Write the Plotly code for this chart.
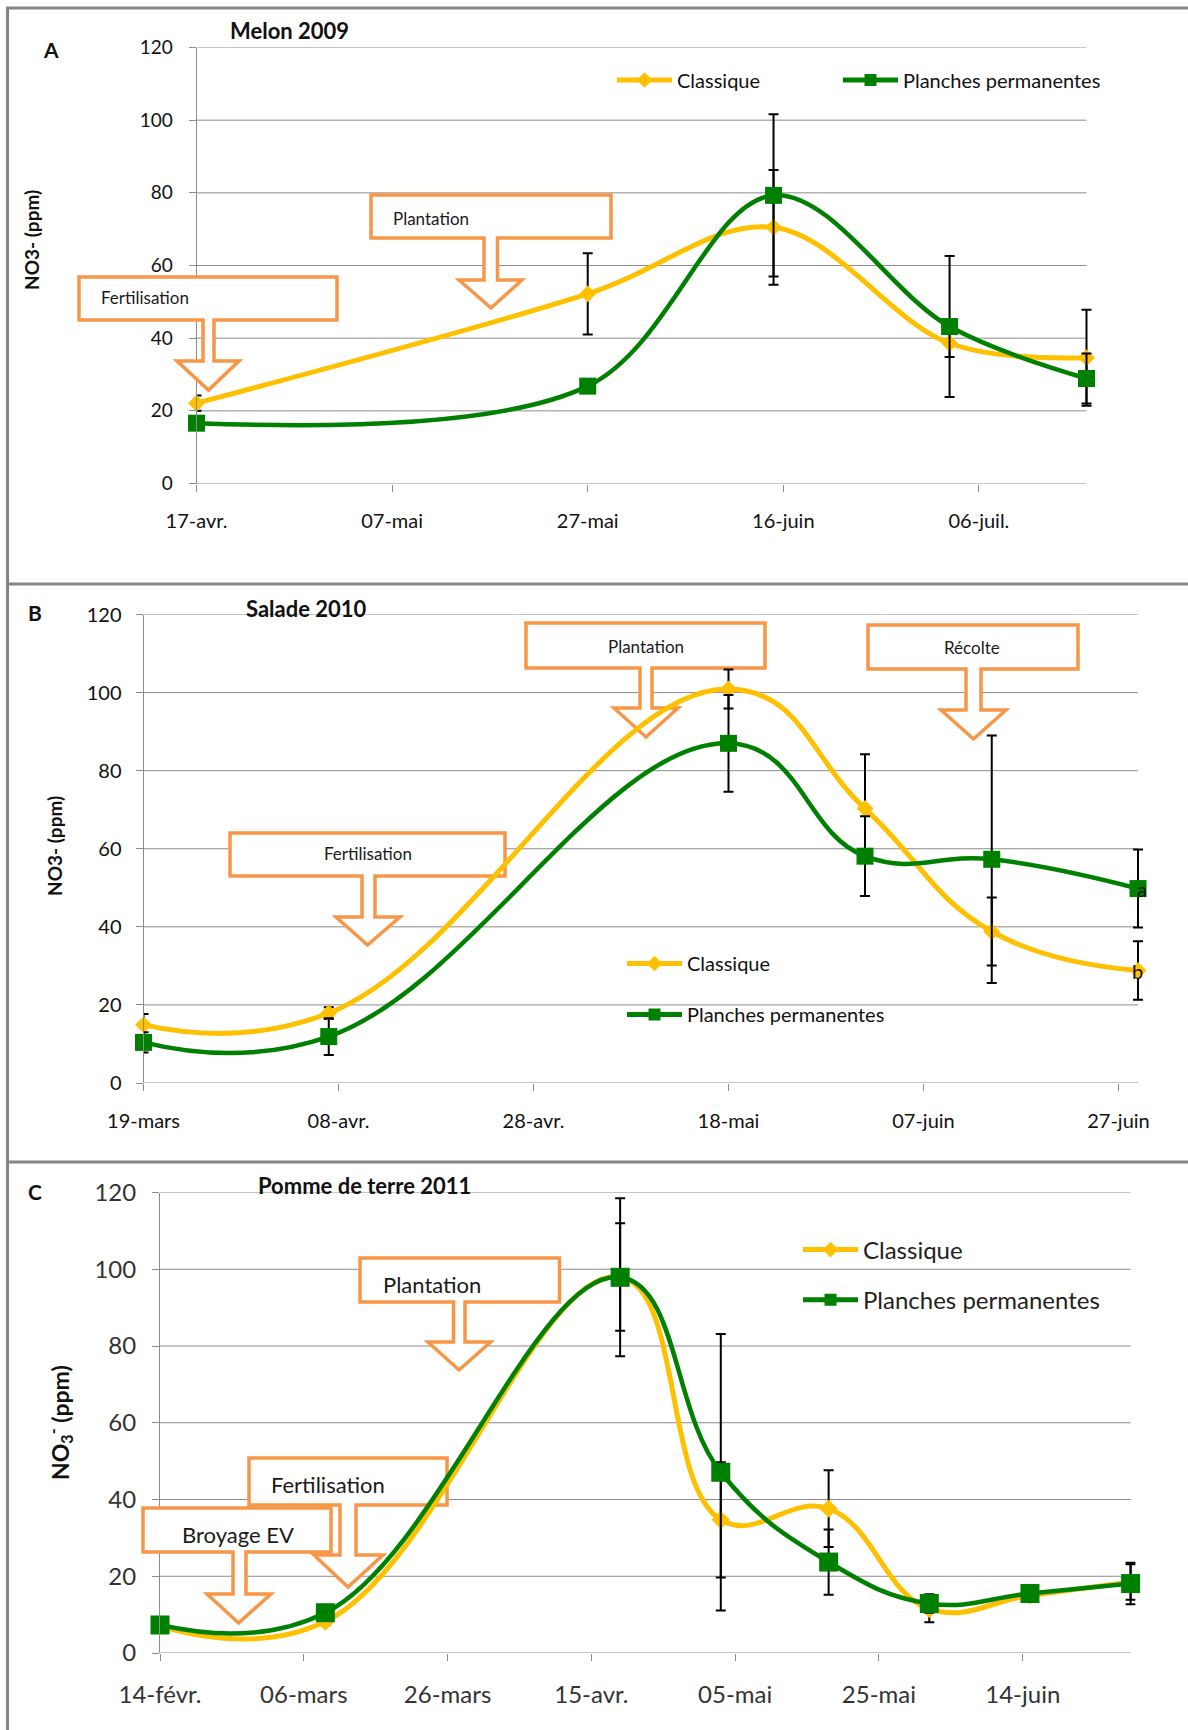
import datetime as dt
import plotly.graph_objects as go

# Soil-solution nitrate (ppm) under two tillage systems, mean and error per sampling date.

# A - Melon 2009
melon_dates = ["2009-04-17", "2009-05-27", "2009-06-15", "2009-07-03", "2009-07-17"]
melon_classique = [22.1, 52.2, 70.5, 38.6, 34.6]
melon_classique_err = [2.1, 11.2, 15.8, 3.8, 13.2]
melon_planches = [16.6, 26.8, 79.3, 43.2, 28.9]
melon_planches_err = [1.5, 1.5, 22.3, 19.4, 6.9]
melon_range = ["2009-04-17", "2009-07-17"]
melon_ticks = ["2009-04-17", "2009-05-07", "2009-05-27", "2009-06-16", "2009-07-06"]
melon_tick_labels = ["17-avr.", "07-mai", "27-mai", "16-juin", "06-juil."]

# B - Salade 2010
salade_dates = ["2010-03-19", "2010-04-07", "2010-05-18", "2010-06-01", "2010-06-14", "2010-06-29"]
salade_classique = [14.9, 17.9, 100.9, 70.3, 38.8, 28.8]
salade_classique_err = [2.8, 1.5, 5.0, 13.9, 8.7, 7.5]
salade_planches = [10.4, 11.9, 87.0, 58.1, 57.3, 49.8]
salade_planches_err = [2.6, 4.7, 12.4, 10.2, 31.7, 10.0]
salade_range = ["2010-03-19", "2010-06-29"]
salade_ticks = ["2010-03-19", "2010-04-08", "2010-04-28", "2010-05-18", "2010-06-07", "2010-06-27"]
salade_tick_labels = ["19-mars", "08-avr.", "28-avr.", "18-mai", "07-juin", "27-juin"]
salade_final_letters = ["b", "a"]  # classique, planches permanentes

# C - Pomme de terre 2011
pdt_dates = ["2011-02-14", "2011-03-09", "2011-04-19", "2011-05-03", "2011-05-18",
             "2011-06-01", "2011-06-15", "2011-06-29"]
pdt_classique = [7.0, 8.2, 98.0, 34.7, 37.6, 11.5, 15.0, 18.5]
pdt_classique_err = [0.8, 1.0, 14.0, 15.0, 10.0, 3.5, 1.0, 4.6]
pdt_planches = [7.3, 10.5, 97.9, 47.1, 23.7, 12.9, 15.5, 18.1]
pdt_planches_err = [0.8, 1.0, 20.6, 36.0, 8.5, 2.4, 1.0, 5.4]
pdt_range = ["2011-02-14", "2011-06-29"]
pdt_ticks = ["2011-02-14", "2011-03-06", "2011-03-26", "2011-04-15", "2011-05-05",
             "2011-05-25", "2011-06-14"]
pdt_tick_labels = ["14-févr.", "06-mars", "26-mars", "15-avr.", "05-mai", "25-mai", "14-juin"]

y_ticks = [0, 20, 40, 60, 80, 100, 120]
series_names = ["Classique", "Planches permanentes"]

W, H = 1188, 1730
YELLOW = "#FFC000"
GREEN = "#008000"
GRID = "#8C8C8C"
FRAME = "#858585"
ORANGE = "#F79646"
FONT = "Lato"
PAD_DAYS = 0.7  # room past the last date so its error-bar caps are not cut
EPOCH = dt.datetime(1970, 1, 1)


def fx(x):
    return x / W


def fy(y):
    return 1 - y / H


# plot-area pixel boxes: left, right (at range end), top, bottom
panels = [
    dict(ax="", box=(196.5, 1086.5, 47.5, 483.5), dates=melon_dates,
         cl=melon_classique, cle=melon_classique_err, pp=melon_planches, ppe=melon_planches_err,
         rng=melon_range, ticks=melon_ticks, labels=melon_tick_labels,
         legends=("legend", "legend4"),
         xfont=20, yfont=19, tick_color="#111111", standoff_x=12, standoff_y=12,
         msize=17, dsize=13, smoothing=1.0),
    dict(ax="2", box=(143.5, 1138, 614.5, 1083), dates=salade_dates,
         cl=salade_classique, cle=salade_classique_err, pp=salade_planches, ppe=salade_planches_err,
         rng=salade_range, ticks=salade_ticks, labels=salade_tick_labels,
         legends=("legend2", "legend2"),
         xfont=20, yfont=20, tick_color="#111111", standoff_x=13, standoff_y=10,
         msize=17, dsize=13, smoothing=1.25),
    dict(ax="3", box=(160, 1130.6, 1192.5, 1653), dates=pdt_dates,
         cl=pdt_classique, cle=pdt_classique_err, pp=pdt_planches, ppe=pdt_planches_err,
         rng=pdt_range, ticks=pdt_ticks, labels=pdt_tick_labels,
         legends=("legend3", "legend3"),
         xfont=24, yfont=24, tick_color="#333333", standoff_x=13, standoff_y=11,
         msize=19, dsize=14, smoothing=1.2),
]

fig = go.Figure()
layout = dict(width=W, height=H, margin=dict(l=0, r=0, t=0, b=0, pad=0, autoexpand=False),
              autosize=False, paper_bgcolor="white", plot_bgcolor="white", showlegend=True,
              font=dict(family=FONT, color="#111111"))
shapes = []

for p in panels:
    xa, ya = "x" + p["ax"], "y" + p["ax"]
    for k, (name, vals, errs, color, symbol, size, width) in enumerate([
        (series_names[0], p["cl"], p["cle"], YELLOW, "diamond", p["dsize"], 5),
        (series_names[1], p["pp"], p["ppe"], GREEN, "square", p["msize"], 4.5),
    ]):
        fig.add_trace(go.Scatter(
            x=p["dates"], y=vals, name=name, xaxis=xa, yaxis=ya,
            mode="lines+markers",
            line=dict(color=color, width=width, shape="spline", smoothing=p["smoothing"]),
            marker=dict(symbol=symbol, size=size, color=color),
            error_y=dict(type="data", array=errs, visible=True, color="black", thickness=2, width=5),
            cliponaxis=False, legend=p["legends"][k], legendgroup=name + p["ax"],
        ))
    l, r, t, b = p["box"]
    start = dt.datetime.fromisoformat(p["rng"][0])
    end = dt.datetime.fromisoformat(p["rng"][1])
    p["days"] = (end - start).days
    p["start"] = start
    px_per_day = (r - l) / p["days"]
    end_padded = end + dt.timedelta(days=PAD_DAYS)
    r_padded = r + PAD_DAYS * px_per_day
    layout["xaxis" + p["ax"]] = dict(
        domain=[fx(l), fx(r_padded)], anchor=ya, type="date",
        range=[p["rng"][0], end_padded.strftime("%Y-%m-%d %H:%M")],
        tickmode="array", tickvals=p["ticks"], ticktext=p["labels"],
        showgrid=False, zeroline=False, showline=False,
        ticks="outside", ticklen=7, tickcolor=GRID, ticklabelstandoff=p["standoff_x"],
        tickfont=dict(family=FONT, size=p["xfont"], color=p["tick_color"]),
    )
    layout["yaxis" + p["ax"]] = dict(
        domain=[fy(b), fy(t)], anchor=xa, range=[0, 120],
        tickmode="array", tickvals=y_ticks,
        showgrid=False, zeroline=False,
        showline=True, linecolor=GRID, linewidth=1,
        ticks="outside", ticklen=7, tickcolor=GRID, ticklabelstandoff=p["standoff_y"],
        tickfont=dict(family=FONT, size=p["yfont"], color=p["tick_color"]),
    )
    # horizontal gridlines stop at the last sampling date
    for v in y_ticks:
        shapes.append(dict(
            type="line", xref=xa, yref=ya, x0=p["rng"][0], x1=p["rng"][1], y0=v, y1=v,
            line=dict(color=GRID, width=1), layer="below"))

# legends
legend_common = dict(bgcolor="rgba(0,0,0,0)", itemclick=False, itemdoubleclick=False,
                     itemwidth=55, itemsizing="constant", xanchor="left", yanchor="middle")
layout["legend"] = dict(orientation="h", x=fx(612), y=fy(80),
                        font=dict(family=FONT, size=20, color="#111111"), **legend_common)
layout["legend4"] = dict(orientation="h", x=fx(838), y=fy(80),
                         font=dict(family=FONT, size=20, color="#111111"), **legend_common)
layout["legend2"] = dict(orientation="v", x=fx(622), y=fy(989),
                         font=dict(family=FONT, size=20, color="#111111"),
                         tracegroupgap=22, **legend_common)
layout["legend3"] = dict(orientation="v", x=fx(798), y=fy(1275),
                         font=dict(family=FONT, size=24, color="#222222"),
                         tracegroupgap=16, **legend_common)

annotations = []


def label(text, x, y, size, angle=0, xanchor="center"):
    annotations.append(dict(text=text, x=fx(x), y=fy(y), xref="paper", yref="paper",
                            xanchor=xanchor, yanchor="middle", showarrow=False, textangle=angle,
                            font=dict(family=FONT, size=size, color="#111111")))


# frame around the three panels
for x0, y0, x1, y1 in [(6, 8, W, 8), (7.5, 7, 7.5, H), (6, 584, W, 584), (6, 1162, W, 1162)]:
    shapes.append(dict(type="line", xref="paper", yref="paper", x0=fx(x0), y0=fy(y0),
                       x1=fx(x1), y1=fy(y1), line=dict(color=FRAME, width=3), layer="above"))

# panel letters, crop titles, y-axis titles
for letter, x, y in [("A", 51, 49), ("B", 35, 613), ("C", 35, 1191)]:
    label(f"<b>{letter}</b>", x, y, 21)
for title, x, y in [("Melon 2009", 289, 31), ("Salade 2010", 306, 608),
                    ("Pomme de terre 2011", 364, 1185)]:
    label(f"<b>{title}</b>", x, y, 22)
label("<b>NO3- (ppm)</b>", 32, 240, 19, angle=-90)
label("<b>NO3- (ppm)</b>", 55, 846, 19, angle=-90)
label("<b>NO<sub>3</sub><sup>-</sup> (ppm)</b>", 59, 1423, 23, angle=-90)

# significance letters on the last Salade sampling date
for vals, letter, shift in [(salade_classique, salade_final_letters[0], -1),
                            (salade_planches, salade_final_letters[1], 4)]:
    annotations.append(dict(text=letter, x=salade_dates[-1], y=vals[-1], xref="x2", yref="y2",
                            showarrow=False, xshift=shift, xanchor="center", yanchor="middle",
                            font=dict(family=FONT, size=20, color="#111111")))


# crop-operation callouts: box, shaft, arrow head and tip (pixel positions on the page)
def outline(box, shaft, head, tip):
    x0, y0, x1, y1 = box
    s0, s1 = shaft
    h0, h1, hy = head
    tx, ty = tip
    return [(x0, y0), (x1, y0), (x1, y1), (s1, y1), (s1, hy), (h1, hy), (tx, ty),
            (h0, hy), (s0, hy), (s0, y1), (x0, y1)]


def to_paper(pts):
    return "M" + " L".join(f"{fx(a):.5f},{fy(c):.5f}" for a, c in pts) + " Z"


def to_data(panel, pts):
    # callouts lying inside a plot area sit between gridlines and curves
    l, r, t, b = panel["box"]
    start_ms = (panel["start"] - EPOCH).total_seconds() * 1000
    out = []
    for a, c in pts:
        ms = start_ms + (a - l) / (r - l) * panel["days"] * 86400000
        val = (b - c) / (b - t) * 120
        out.append(f"{ms:.0f},{val:.4f}")
    return "M" + " L".join(out) + " Z"


callouts = [
    (0, False, "Fertilisation", (79, 277, 337, 320), (203, 214), (177, 239, 361), (208.5, 390), (99, 298, "left"), 17),
    (0, True, "Plantation", (371, 195, 611, 238), (484, 497.5), (459, 522, 280), (491, 308), (391, 218, "left"), 17),
    (1, True, "Fertilisation", (230, 833, 505, 876), (362, 375), (336, 400, 917), (367.5, 945), (367.5, 854, "center"), 17),
    (1, True, "Plantation", (526, 623, 765, 668), (640, 652), (614, 678, 708), (646, 737), (645.5, 646, "center"), 17),
    (1, True, "Récolte", (868, 625, 1078, 669), (966, 981), (941, 1006, 710), (973.5, 739), (972, 647, "center"), 17),
    (2, True, "Plantation", (360, 1258, 559.5, 1302), (453.5, 465), (428, 490.6, 1342), (459, 1370), (381, 1284, "left"), 22),
    (2, True, "Fertilisation", (249, 1458, 447, 1505), (340, 356), (314, 383, 1555), (348, 1587), (269, 1484, "left"), 22),
    (2, False, "Broyage EV", (143, 1508, 331, 1552), (233, 246), (207, 271, 1594), (238.5, 1623), (238, 1534, "center"), 22),
]
for idx, inside, text, box, shaft, head, tip, (tx, ty, align), size in callouts:
    p = panels[idx]
    pts = outline(box, shaft, head, tip)
    style = dict(type="path", line=dict(color=ORANGE, width=3.5), fillcolor="white")
    if inside:
        shapes.append(dict(xref="x" + p["ax"], yref="y" + p["ax"], path=to_data(p, pts),
                           layer="between", **style))
    else:
        shapes.append(dict(xref="paper", yref="paper", path=to_paper(pts), layer="above", **style))
    annotations.append(dict(text=text, x=fx(tx), y=fy(ty), xref="paper", yref="paper",
                            xanchor=align, yanchor="middle", showarrow=False,
                            font=dict(family=FONT, size=size, color="#1a1a1a")))

layout["annotations"] = annotations
layout["shapes"] = shapes
fig.update_layout(**layout)
fig.write_html("out.html")
